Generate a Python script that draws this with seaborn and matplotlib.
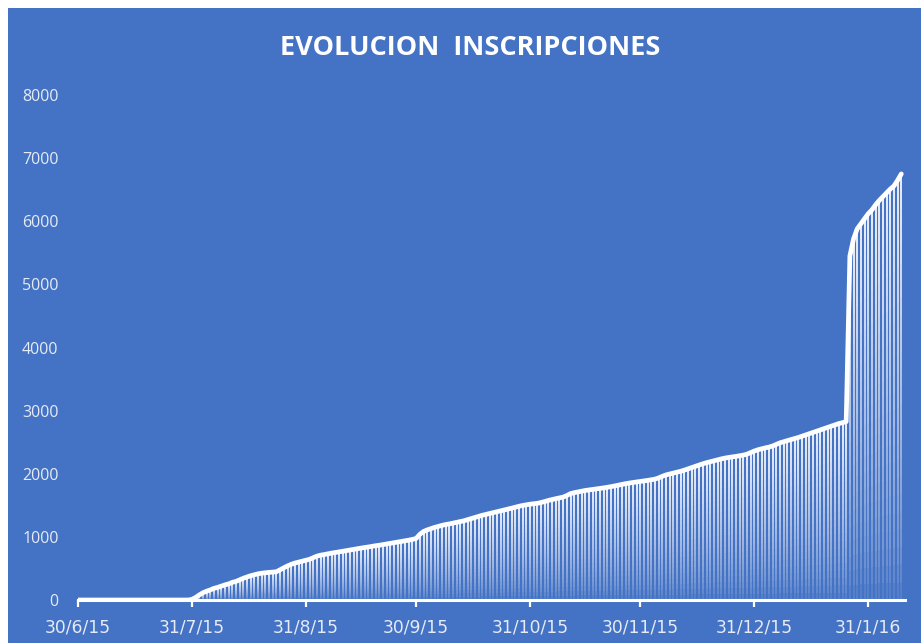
import numpy as np
import pandas as pd
import seaborn as sns
import matplotlib.pyplot as plt
from matplotlib.patches import Rectangle

# daily cumulative registrations, starting 30/6/15
start_date = "2015-06-30"
jul_values = [0] * 31 + [10]  # 30/6 .. 31/7
aug_values = [40, 80, 115, 140, 160, 185, 200, 220, 240, 255, 280, 295, 320, 345, 365, 385,
              400, 415, 425, 432, 438, 442, 448, 480, 510, 540, 565, 585, 600, 615, 630]
sep_values = [645, 670, 695, 710, 720, 732, 743, 752, 762, 772, 783, 792, 802, 812, 822,
              832, 840, 850, 860, 868, 878, 888, 898, 908, 918, 928, 938, 948, 960, 975]
oct_values = [1040, 1085, 1110, 1130, 1150, 1165, 1182, 1195, 1205, 1218, 1230, 1242, 1255,
              1272, 1290, 1308, 1325, 1342, 1356, 1370, 1384, 1398, 1412, 1425, 1440, 1455,
              1470, 1485, 1498, 1508, 1518]
nov_values = [1525, 1532, 1545, 1560, 1578, 1592, 1605, 1618, 1630, 1655, 1685, 1700, 1712,
              1724, 1735, 1743, 1752, 1760, 1768, 1776, 1785, 1795, 1807, 1820, 1832, 1843,
              1853, 1862, 1870, 1878]
dec_values = [1886, 1895, 1905, 1915, 1935, 1960, 1982, 1996, 2010, 2025, 2040, 2058, 2078,
              2098, 2118, 2138, 2158, 2175, 2190, 2205, 2220, 2235, 2248, 2258, 2266, 2275,
              2285, 2295, 2310, 2335, 2360]
jan_values = [2380, 2395, 2410, 2422, 2440, 2465, 2490, 2508, 2525, 2542, 2558, 2575, 2595,
              2615, 2635, 2655, 2675, 2695, 2715, 2735, 2755, 2775, 2795, 2810, 2825, 5450,
              5720, 5880, 5960, 6040, 6120]
feb_values = [6180, 6260, 6330, 6390, 6450, 6510, 6560, 6650, 6750]

tick_dates = ["2015-06-30", "2015-07-31", "2015-08-31", "2015-09-30", "2015-10-31",
              "2015-11-30", "2015-12-31", "2016-01-31"]
y_ticks = [0, 1000, 2000, 3000, 4000, 5000, 6000, 7000, 8000]
title = "EVOLUCION  INSCRIPCIONES"

values = (jul_values + aug_values + sep_values + oct_values + nov_values
          + dec_values + jan_values + feb_values)
df = pd.DataFrame({"fecha": pd.date_range(start_date, periods=len(values), freq="D"),
                   "inscripciones": values})

blue = "#4472C4"
white = "#FFFFFF"
label_col = "#E6EBF5"

sns.set_theme(style="white")
plt.rcParams["font.family"] = ["Open Sans", "DejaVu Sans"]

fig = plt.figure(figsize=(9.21, 6.43), dpi=100)
fig.patch.set_facecolor("white")
fig.patches.append(Rectangle((8 / 921, 0), 1, 1 - 8 / 643, transform=fig.transFigure,
                             facecolor=blue, edgecolor="none", zorder=-10))

ax = fig.add_axes([78 / 921, 43 / 643, 827 / 921, 505 / 643])
ax.set_facecolor(blue)
ax.patch.set_alpha(0)

# drop lines with a fade toward the bottom
nz = df[df["inscripciones"] > 0]
n_steps = 24
for k in range(n_steps):
    lo = nz["inscripciones"] * k / n_steps
    hi = nz["inscripciones"] * (k + 1) / n_steps
    frac = (k + 0.5) / n_steps
    ax.vlines(nz["fecha"], lo, hi, colors=white, linewidth=1.3,
              alpha=0.05 + 0.92 * frac ** 0.7, zorder=2)

sns.lineplot(data=df, x="fecha", y="inscripciones", ax=ax, color=white,
             linewidth=3.4, solid_joinstyle="round", solid_capstyle="round", zorder=4)

x0 = pd.Timestamp(start_date)
ax.set_xlim(x0, x0 + pd.Timedelta(days=225))
ax.set_ylim(0, 8000)

tds = pd.to_datetime(tick_dates)
ax.set_xticks(tds)
ax.set_xticklabels([f"{d.day}/{d.month}/{d:%y}" for d in tds], family=["DejaVu Sans"])
ax.set_yticks(y_ticks)
ax.set_yticklabels([str(v) for v in y_ticks])
ax.set_xlabel("")
ax.set_ylabel("")

for s in ["top", "right", "left"]:
    ax.spines[s].set_visible(False)
ax.spines["bottom"].set_color(white)
ax.spines["bottom"].set_linewidth(2.2)
ax.spines["bottom"].set_zorder(5)

ax.tick_params(axis="x", colors=white, labelcolor=label_col, length=5, width=1.6,
               direction="out", pad=8, labelsize=12.3, bottom=True)
ax.tick_params(axis="y", labelcolor=label_col, length=0, pad=14, labelsize=11.5, left=False)
ax.grid(False)

fig.text(470 / 921, 1 - 48 / 643, title, color=white, fontsize=19.5, fontweight="bold",
         ha="center", va="center")

fig.savefig("out.png", dpi=100)
